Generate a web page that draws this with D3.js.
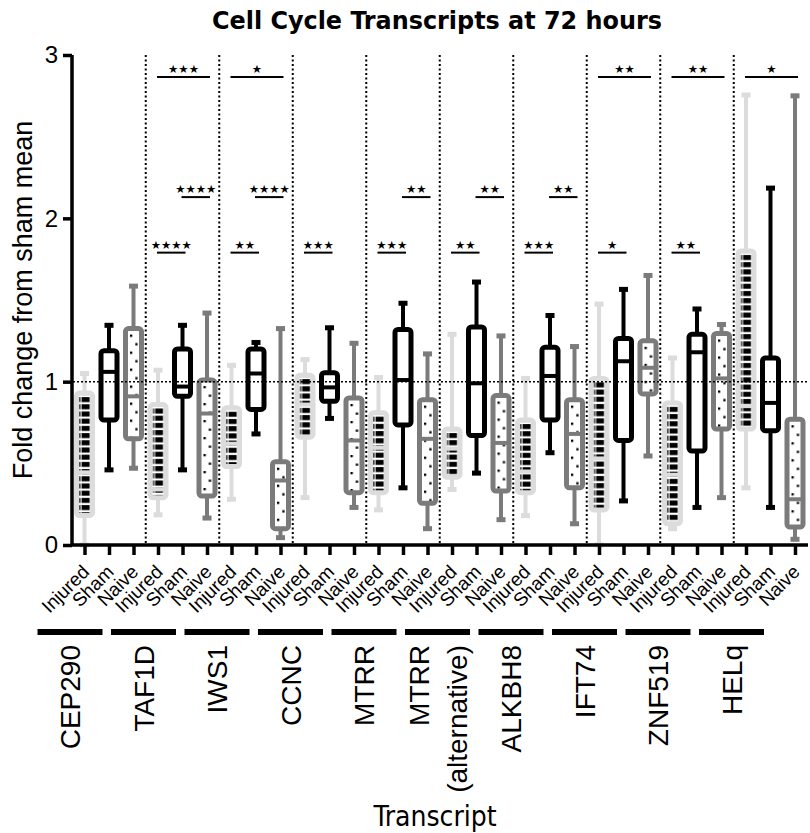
<!DOCTYPE html>
<html><head><meta charset="utf-8">
<script src="https://cdn.jsdelivr.net/npm/d3@7"></script>
<style>body{margin:0;background:#fff} svg{display:block} text{font-family:'Liberation Sans',Arial,Helvetica,sans-serif}</style>
</head><body>
<svg id="c" width="810" height="833"></svg>
<script>
const title = "Cell Cycle Transcripts at 72 hours";
const yLabel = "Fold change from sham mean";
const xLabel = "Transcript";
const transcripts = [["CEP290"],["TAF1D"],["IWS1"],["CCNC"],["MTRR"],["MTRR","(alternative)"],["ALKBH8"],["IFT74"],["ZNF519"],["HELq"]];
const conditions = ["Injured","Sham","Naive"];
// [whisker low, Q1, median, Q3, whisker high]
const injured = [
  [0.00,0.18,0.445,0.93,1.05],
  [0.185,0.29,0.34,0.86,1.07],
  [0.28,0.48,0.62,0.84,1.10],
  [0.29,0.66,0.86,1.04,1.135],
  [0.215,0.32,0.595,0.81,1.025],
  [0.34,0.415,0.59,0.71,1.29],
  [0.18,0.32,0.45,0.765,1.02],
  [0.00,0.215,0.53,1.02,1.475],
  [0.10,0.13,0.43,0.87,1.145],
  [0.35,0.71,0.85,1.80,2.755]
];
const sham = [
  [0.46,0.765,1.06,1.19,1.345],
  [0.46,0.91,0.97,1.20,1.345],
  [0.68,0.83,1.05,1.20,1.24],
  [0.775,0.88,0.965,1.055,1.33],
  [0.35,0.735,1.01,1.32,1.48],
  [0.44,0.67,0.99,1.335,1.61],
  [0.565,0.765,1.035,1.21,1.405],
  [0.27,0.64,1.125,1.265,1.565],
  [0.23,0.575,1.18,1.29,1.445],
  [0.23,0.70,0.87,1.145,2.185]
];
const naive = [
  [0.47,0.65,0.91,1.325,1.585],
  [0.165,0.30,0.805,1.01,1.42],
  [0.045,0.10,0.395,0.51,1.325],
  [0.23,0.32,0.64,0.90,1.235],
  [0.10,0.255,0.65,0.89,1.17],
  [0.155,0.33,0.625,0.915,1.28],
  [0.13,0.35,0.68,0.89,1.215],
  [0.545,0.925,1.085,1.25,1.65],
  [0.29,0.71,1.02,1.295,1.35],
  [0.035,0.11,0.28,0.77,2.75]
];
const yTicks = [0,1,2,3];
const refValue = 1;
// significance bars: group, from condition, to condition, height (fold change), label
const sigGroup = [1,1,1,2,2,2,3,4,4,5,5,6,6,7,7,8,8,9];
const sigFrom  = [0,1,0,0,1,0,0,0,1,0,1,0,1,0,0,0,0,0];
const sigTo    = [1,2,2,1,2,2,1,1,2,1,2,1,2,1,2,1,2,2];
const sigLevel = [1.79,2.13,2.865,1.79,2.13,2.865,1.79,1.79,2.13,1.79,2.13,1.79,2.13,1.79,2.865,1.79,2.865,2.865];
const sigText  = ["****","****","***","**","****","*","***","***","**","**","**","***","**","*","**","**","**","*"];

const svg = d3.select("#c");
const FONT = "'Liberation Sans', Arial, Helvetica, sans-serif";
const NARROW = "'Liberation Sans Narrow', 'DejaVu Sans Condensed', Arial, sans-serif";
const y = d3.scaleLinear().domain([0,3]).range([545,55]);
const x = d3.scalePoint().domain(d3.range(transcripts.length*3)).range([84.5,795]);
const series = [injured, sham, naive];
const colors = ["#dcdcdc","#000000","#7b7b7b"];
const boxW = 16;

// patterns
const defs = svg.append("defs");
series.forEach((ser, s) => {
  ser.forEach((d, g) => {
    const cx = x(3*g+s);
    if (s === 0) {
      const p = defs.append("pattern").attr("id",`p${s}_${g}`).attr("patternUnits","userSpaceOnUse")
        .attr("x",cx-5.5).attr("y",y(d[3])+3).attr("width",30).attr("height",7.2);
      p.append("rect").attr("width",30).attr("height",7.2).attr("fill","#fff");
      p.append("rect").attr("x",0.3).attr("y",1).attr("width",1.2).attr("height",5).attr("fill","#000");
      p.append("rect").attr("x",2.6).attr("y",1).attr("width",8).attr("height",5).attr("fill","#000");
    } else if (s === 2) {
      const p = defs.append("pattern").attr("id",`p${s}_${g}`).attr("patternUnits","userSpaceOnUse")
        .attr("x",cx-5.5).attr("y",y(d[3])+3).attr("width",30).attr("height",17);
      p.append("rect").attr("width",30).attr("height",17).attr("fill","#fff");
      p.append("rect").attr("x",2).attr("y",3).attr("width",2.3).attr("height",2.3).attr("fill","#000");
      p.append("rect").attr("x",7.3).attr("y",11.5).attr("width",2.3).attr("height",2.3).attr("fill","#000");
    }
  });
});

// title
svg.append("text").attr("x",437).attr("y",29).attr("text-anchor","middle")
  .style("font-family",NARROW).attr("font-weight","bold").attr("font-size",25)
  .attr("textLength",450).attr("lengthAdjust","spacingAndGlyphs").text(title);

// group separators
const seps = d3.range(1, transcripts.length).map(g => (x(3*g-1)+x(3*g))/2);
svg.append("g").selectAll("line").data(seps).join("line")
  .attr("x1",d=>d).attr("x2",d=>d).attr("y1",y(3)).attr("y2",y(0))
  .attr("stroke","#000").attr("stroke-width",2).attr("stroke-dasharray","2,2.5");

// boxes
const boxG = svg.append("g");
series.forEach((ser, s) => {
  ser.forEach((d, g) => {
    const cx = x(3*g+s), c = colors[s];
    const gg = boxG.append("g");
    gg.append("line").attr("x1",cx).attr("x2",cx).attr("y1",y(d[4])).attr("y2",y(d[3])).attr("stroke",c).attr("stroke-width",4);
    gg.append("line").attr("x1",cx).attr("x2",cx).attr("y1",y(d[1])).attr("y2",y(d[0])).attr("stroke",c).attr("stroke-width",4);
    [d[0], d[4]].forEach(v => gg.append("rect").attr("x",cx-4.5).attr("y",y(v)-2.5).attr("width",9).attr("height",5).attr("fill",c));
    gg.append("rect").attr("x",cx-boxW/2).attr("y",y(d[3])).attr("width",boxW).attr("height",y(d[1])-y(d[3]))
      .attr("rx",3).attr("fill", s===1 ? "#fff" : `url(#p${s}_${g})`).attr("stroke",c).attr("stroke-width",5);
    gg.append("line").attr("x1",cx-boxW/2).attr("x2",cx+boxW/2).attr("y1",y(d[2])).attr("y2",y(d[2])).attr("stroke",c).attr("stroke-width",4);
  });
});

// reference line
svg.append("line").attr("x1",73).attr("x2",808).attr("y1",y(refValue)).attr("y2",y(refValue))
  .attr("stroke","#000").attr("stroke-width",1.5).attr("stroke-dasharray","2,2");

// axes
const yAxis = svg.append("g").attr("transform","translate(72,0)")
  .call(d3.axisLeft(y).tickValues(yTicks).tickSize(9).tickPadding(5).tickFormat(d3.format("d")));
yAxis.select(".domain").attr("stroke-width",3.5).attr("d",`M0,${y(0)}V${y(3)}`);
yAxis.selectAll(".tick line").attr("stroke-width",3.5);
yAxis.selectAll(".tick text").style("font-family",FONT).attr("font-size",24).attr("fill","#000");

const xAxis = svg.append("g").attr("transform",`translate(0,${y(0)})`)
  .call(d3.axisBottom(x).tickSize(10).tickFormat(""));
xAxis.select(".domain").attr("stroke-width",3.5).attr("d","M72,0H808");
xAxis.selectAll(".tick line").attr("stroke-width",3.5);

// condition labels
svg.append("g").selectAll("text").data(d3.range(transcripts.length*3)).join("text")
  .attr("transform",i=>`translate(${x(i)+6},573) rotate(-45)`)
  .attr("text-anchor","end").style("font-family",FONT).attr("font-size",19)
  .text(i=>conditions[i%3]);

// group bars and transcript labels
const groupCenter = g => x(3*g+1) - 39;
svg.append("g").selectAll("rect").data(transcripts).join("rect")
  .attr("x",(d,g)=>groupCenter(g)-32.5).attr("y",629).attr("width",65).attr("height",6).attr("fill","#000");
const tl = svg.append("g").selectAll("g").data(transcripts).join("g");
tl.each(function(lines, g){
  const n = lines.length;
  lines.forEach((t, k) => {
    const cx = groupCenter(g) + (k - (n-1)/2)*38;
    d3.select(this).append("text")
      .attr("transform",`translate(${cx+10},645) rotate(-90)`)
      .attr("text-anchor","end").style("font-family",FONT).attr("font-size",28).text(t);
  });
});

// axis titles
svg.append("text").attr("transform",`translate(32,${(y(0)+y(3))/2}) rotate(-90)`)
  .attr("text-anchor","middle").style("font-family",FONT).attr("font-size",27).text(yLabel);
svg.append("text").attr("x",435).attr("y",826).attr("text-anchor","middle")
  .style("font-family",NARROW).attr("font-size",28).text(xLabel);

// significance
const sigG = svg.append("g");
sigGroup.forEach((g, k) => {
  const x1 = x(3*g+sigFrom[k]) - 1, x2 = x(3*g+sigTo[k]) + 3, yy = y(sigLevel[k]);
  sigG.append("line").attr("x1",x1).attr("x2",x2).attr("y1",yy).attr("y2",yy).attr("stroke","#000").attr("stroke-width",2);
  sigG.append("text").attr("x",(x1+x2)/2).attr("y",yy-4).attr("text-anchor","middle")
    .style("font-family","'DejaVu Sans', sans-serif").attr("font-size",11.5)
    .text(sigText[k].replace(/\*/g,"\u2605"));
});
</script>
</body></html>
